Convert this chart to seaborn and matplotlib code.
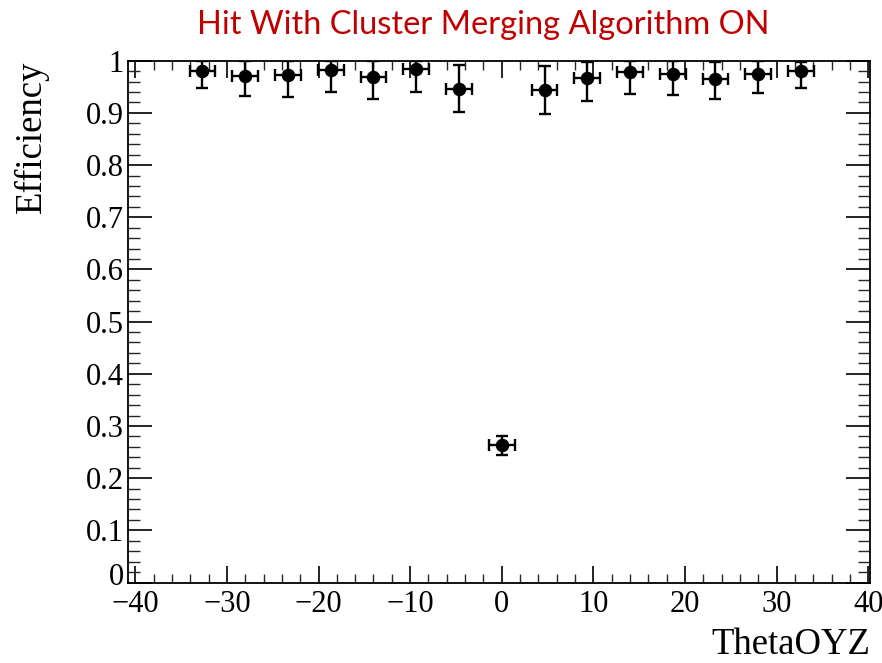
import matplotlib
matplotlib.use("Agg")
import matplotlib.pyplot as plt
import matplotlib.transforms as mtransforms
import seaborn as sns
import numpy as np
import pandas as pd
from matplotlib.ticker import MultipleLocator

# ---- data ----
theta = [-32.67, -28.0, -23.33, -18.67, -14.0, -9.33, -4.67, 0.0,
         4.67, 9.33, 14.0, 18.67, 23.33, 28.0, 32.67]
efficiency = [0.981, 0.971, 0.972, 0.982, 0.969, 0.985, 0.946, 0.263,
              0.944, 0.966, 0.979, 0.975, 0.965, 0.975, 0.980]
eff_low = [0.948, 0.932, 0.930, 0.941, 0.927, 0.940, 0.902, 0.244,
           0.898, 0.923, 0.936, 0.934, 0.926, 0.939, 0.947]
eff_high = [1.0, 0.999, 1.0, 1.0, 1.0, 1.0, 0.992, 0.281,
            0.989, 0.998, 1.0, 1.0, 0.998, 1.0, 0.998]
theta_err = [1.4] * len(theta)

title_text = "Hit With Cluster Merging Algorithm ON"
x_label = "ThetaOYZ"
y_label = "Efficiency"

df = pd.DataFrame({"theta": theta, "eff": efficiency})
yerr = np.array([np.array(efficiency) - np.array(eff_low),
                 np.array(eff_high) - np.array(efficiency)])

sns.set_theme(style="white")
plt.rcParams["font.family"] = ["Liberation Serif", "DejaVu Serif"]

fig = plt.figure(figsize=(8.82, 6.63), dpi=100)
ax = fig.add_axes([0.1451, 0.1214, 0.9864 - 0.1451, 0.9084 - 0.1214])

ax.errorbar(df["theta"], df["eff"], xerr=theta_err, yerr=yerr,
            fmt="none", ecolor="black", elinewidth=1.7, capsize=4.0,
            capthick=1.7, zorder=2)
sns.scatterplot(data=df, x="theta", y="eff", ax=ax, color="black",
                s=95, edgecolor="black", linewidth=0, zorder=3)

ax.set_xlim(-40.8, 40.2)
ax.set_ylim(0, 1.0)
ax.xaxis.set_minor_locator(MultipleLocator(2))
ax.yaxis.set_minor_locator(MultipleLocator(0.02))

ax.set_xticks([-40, -30, -20, -10, 0, 10, 20, 30, 40])
ax.set_xticklabels(["\u221240", "\u221230", "\u221220", "\u221210", "0",
                    "10", "20", "30", "40"])
ax.set_yticks([0, 0.1, 0.2, 0.3, 0.4, 0.5, 0.6, 0.7, 0.8, 0.9, 1.0])
ax.set_yticklabels(["0", "0.1", "0.2", "0.3", "0.4", "0.5", "0.6",
                    "0.7", "0.8", "0.9", "1"])

ax.tick_params(axis="x", which="major", direction="in", length=12,
               width=1.2, top=True, bottom=True, labelsize=22, pad=5.5,
               colors="black")
ax.tick_params(axis="x", which="minor", direction="in", length=6.5,
               width=1.0, top=True, bottom=True)
ax.tick_params(axis="y", which="major", direction="in", length=17,
               width=1.2, left=True, right=True, labelsize=22, pad=3,
               colors="black")
ax.tick_params(axis="y", which="minor", direction="in", length=8.5,
               width=1.0, left=True, right=True)

# nudge the "0" label of the y axis up slightly, as in the reference
zero_lbl = ax.get_yticklabels()[0]
zero_lbl.set_transform(zero_lbl.get_transform() +
                       mtransforms.ScaledTranslation(0, 9 / 100,
                                                     fig.dpi_scale_trans))

for sp in ax.spines.values():
    sp.set_visible(True)
    sp.set_color("black")
    sp.set_linewidth(1.3)

ax.set_xlabel("")
ax.set_ylabel("")
fig.text(0.9864, 1 - 654 / 663, x_label, ha="right", va="baseline",
         fontsize=26.5, color="black")
fig.text(0.016, 0.908, y_label, ha="left", va="top", rotation=90,
         fontsize=26.5, color="black")

fig.text(0.548, 1 - 33.5 / 663, title_text, ha="center", va="baseline",
         fontsize=23.5, color="#C00000", family=["Lato", "DejaVu Sans"])

fig.savefig("out.png", dpi=100)
